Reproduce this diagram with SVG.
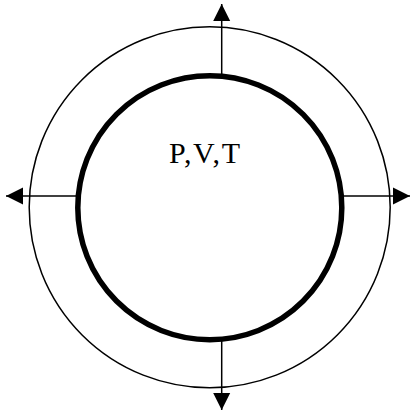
<svg xmlns="http://www.w3.org/2000/svg" width="411" height="412" viewBox="0 0 411 412">
  <style>
    .thin { fill: none; stroke: #000; stroke-width: 1.5; }
    .thick { fill: none; stroke: #000; stroke-width: 5.5; }
    .conn { stroke: #000; stroke-width: 1.5; fill: none; marker-end: url(#arrow); }
    .label { font-family: "Liberation Serif", "Times New Roman", serif; font-size: 30px; fill: #000; }
  </style>
  <defs>
    <marker id="arrow" markerUnits="userSpaceOnUse" markerWidth="18" markerHeight="18" refX="17" refY="8.5" orient="auto" viewBox="0 0 18 17">
      <path d="M0,0 L17,8.5 L0,17 Z" fill="#000"/>
    </marker>
  </defs>
  <rect width="411" height="412" fill="#fff"/>
  <g id="outer">
    <circle class="thin" cx="209.7" cy="207.3" r="180.5"/>
  </g>
  <g id="inner">
    <circle class="thick" cx="209.8" cy="207.7" r="132"/>
    <text class="label" x="169" y="163" textLength="71" lengthAdjust="spacing">P,V,T</text>
  </g>
  <g id="connectors">
    <line class="conn" x1="221.7" y1="76" x2="221.7" y2="4"/>
    <line class="conn" x1="221.7" y1="339" x2="221.7" y2="410"/>
    <line class="conn" x1="79" y1="196" x2="6" y2="196"/>
    <line class="conn" x1="341" y1="196" x2="410" y2="196"/>
  </g>
</svg>
